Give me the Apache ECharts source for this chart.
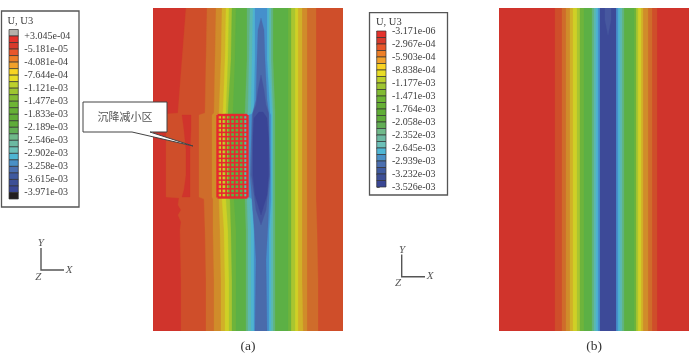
<!DOCTYPE html>
<html>
<head>
<meta charset="utf-8">
<title>U3 contour</title>
<script src="https://cdn.jsdelivr.net/npm/echarts@6/dist/echarts.min.js"></script>
<style>
html, body { margin: 0; padding: 0; background: #fff; }
#chart { width: 700px; height: 353px; }
</style>
</head>
<body>
<div id="chart"></div>
<script>
// legend tick labels
var labelsA = ['+3.045e-04', '-5.181e-05', '-4.081e-04', '-7.644e-04', '-1.121e-03', '-1.477e-03', '-1.833e-03',
    '-2.189e-03', '-2.546e-03', '-2.902e-03', '-3.258e-03', '-3.615e-03', '-3.971e-03'];
var labelsB = ['-3.171e-06', '-2.967e-04', '-5.903e-04', '-8.838e-04', '-1.177e-03', '-1.471e-03', '-1.764e-03',
    '-2.058e-03', '-2.352e-03', '-2.645e-03', '-2.939e-03', '-3.232e-03', '-3.526e-03'];
// legend colour steps, two per labelled interval
var stepColors = ['#e5322c', '#d83a2c', '#e8572b', '#ee7f27', '#f2a12b', '#f9d423', '#e9dd26', '#bcd02b',
    '#9ec531', '#82bb34', '#6eb534', '#66b035', '#60ad36', '#5fac3a', '#62ae55', '#6fb98a',
    '#6cb9a2', '#6cc0b8', '#4fb6d4', '#4a90c6', '#4b6fb0', '#3f5a9f', '#3d4f96', '#3a4795'];
var overColor = '#b5b1ab';
var underColor = '#231f20';

// contour fills, outermost first
var redFill = '#d0342c';
var levelColors = ['#cf4e2a', '#cf6c2b', '#d08c2a', '#d1b028', '#cfd026', '#a9c530', '#6eb43b', '#5cb045',
    '#62b37e', '#5cb8b0', '#4eb3d0', '#4590cc'];

// panel (a): model coordinates, x from left edge, y from top edge
var rowsFirstA = [0, 52, 104, 105, 106, 189, 190, 197, 202, 207, 214, 222, 272, 323];
var leftFirstA = [33, 29, 25, 25, 13, 13, 26, 25, 28, 25, 28, 27, 28, 28];
var rightFirstA = [190, 190, 190, 190, 190, 190, 190, 190, 190, 190, 190, 190, 190, 190];

var rowsA = [0, 52, 105, 107, 189, 191, 222, 272, 323];
var leftA = [
    [54, 53, 52, 46, 46, 51, 52, 53, 53],
    [63, 62, 61, 59, 59, 60, 60, 61, 61],
    [69, 68, 66, 64, 64, 66, 67, 68, 68],
    [73, 72, 70, 67, 67, 69, 71, 72, 72],
    [76, 75, 73, 71, 72, 73, 75, 76, 76],
    [79, 78, 75, 75, 75, 77, 78, 79, 79],
    [83, 82, 80, 78, 78, 81, 83, 83, 83],
    [94, 94, 92, 90, 90, 92, 93, 93, 93],
    [97, 96, 95, 92, 92, 94, 95, 95, 95],
    [100, 99, 98, 94, 94, 97, 98, 98, 98],
    [102, 102, 101, 96, 96, 99, 101, 101, 101]
];
var rightA = [
    [163, 163, 163, 163, 163, 163, 164, 165, 165],
    [154, 154, 154, 154, 154, 154, 154, 154, 154],
    [149, 149, 149, 149, 149, 149, 149, 149, 150],
    [145, 145, 145, 145, 145, 145, 145, 145, 145],
    [142, 142, 142, 142, 142, 142, 142, 142, 142],
    [138, 138, 138, 138, 138, 138, 138, 138, 138],
    [135, 135, 135, 135, 135, 135, 135, 135, 135],
    [120, 120, 122, 122, 122, 122, 122, 122, 122],
    [118, 118, 120, 120, 120, 120, 120, 120, 120],
    [116, 116, 119, 119, 119, 119, 118, 118, 118],
    [114, 114, 117, 118, 118, 118, 116, 116, 116]
];
// red pocket left of the mesh
var rowsPocketA = [107, 122, 142, 167, 182, 189];
var leftPocketA = [29, 31, 33, 33, 31, 29];
var rightPocketA = [38, 38, 37, 37, 37, 37];
// blue core, three nested levels
var coreColors = ['#4a6bab', '#43559f', '#3a4596'];
var rowsCoreA = [
    [10, 22, 52, 92, 107, 167, 217, 252, 323],
    [67, 82, 97, 105, 167, 202, 217],
    [104, 110, 130, 167, 187, 207]
];
var leftCoreA = [
    [108, 105, 104, 103, 99, 97, 101, 103, 102],
    [108, 105, 103, 100, 98.5, 103, 108],
    [106, 101, 100, 100, 102, 108]
];
var rightCoreA = [
    [108, 111, 112, 114, 116, 117, 115, 113, 114],
    [108, 111, 113, 115.5, 116.5, 113, 108],
    [110, 114, 115.5, 115.5, 114, 108]
];
// mesh over the settlement-reduction zone
var meshColsA = [64.5, 68.8, 73.1, 77.4, 81.7, 86, 90.3, 94.5];
var meshRowsA = [107, 111.3, 115.7, 120, 124.4, 128.7, 133, 137.4, 141.7, 146.1, 150.4, 154.7,
    159.1, 163.4, 167.8, 172.1, 176.4, 180.8, 185.1, 189.5];

// panel (b): straight bands
var rowsB = [0, 323];
var leftB = [56, 63, 67, 71, 74, 78, 81, 85, 93, 95, 97, 99];
var rightB = [158, 153, 149, 144, 142, 139, 137, 135, 125, 123, 121, 119];
var coreLeftB = 101;
var coreRightB = 117;
var rowsWedgeB = [0, 12, 27];
var leftWedgeB = [106, 106, 109];
var rightWedgeB = [112, 112, 109];

function region(color, rows, left, right) {
    var pts = [];
    for (var i = 0; i < rows.length; i++) pts.push([left[i], rows[i]]);
    for (var j = rows.length - 1; j >= 0; j--) pts.push([right[j], rows[j]]);
    return {color: color, pts: pts};
}
function fill(v, n) {
    var a = [];
    for (var i = 0; i < n; i++) a.push(v);
    return a;
}

var regionsA = [region(redFill, [0, 323], [0, 0], [190, 190])];
regionsA.push(region(levelColors[0], rowsFirstA, leftFirstA, rightFirstA));
leftA.forEach(function (l, i) {
    regionsA.push(region(levelColors[i + 1], rowsA, l, rightA[i]));
});
regionsA.push(region(redFill, rowsPocketA, leftPocketA, rightPocketA));
coreColors.forEach(function (c, i) {
    regionsA.push(region(c, rowsCoreA[i], leftCoreA[i], rightCoreA[i]));
});

var regionsB = [region(redFill, rowsB, [0, 0], [190, 190])];
leftB.forEach(function (l, i) {
    regionsB.push(region(levelColors[i], rowsB, fill(l, 2), fill(rightB[i], 2)));
});
regionsB.push(region('#3d4a98', rowsB, fill(coreLeftB, 2), fill(coreRightB, 2)));
regionsB.push(region('#47589f', rowsWedgeB, leftWedgeB, rightWedgeB));

var meshLines = [];
meshColsA.forEach(function (x, i) {
    var edge = i === 0 || i === meshColsA.length - 1;
    meshLines.push([x, meshRowsA[0], x, meshRowsA[meshRowsA.length - 1], edge ? 2.4 : 1.6]);
});
meshRowsA.forEach(function (y, i) {
    var edge = i === 0 || i === meshRowsA.length - 1;
    meshLines.push([meshColsA[0], y, meshColsA[meshColsA.length - 1], y, edge ? 2.4 : 1.6]);
});

function contourSeries(idx, regions) {
    return {
        type: 'custom',
        xAxisIndex: idx,
        yAxisIndex: idx,
        silent: true,
        clip: true,
        data: regions.map(function (r, i) { return [i]; }),
        renderItem: function (params, api) {
            var r = regions[params.dataIndex];
            return {
                type: 'polygon',
                shape: {points: r.pts.map(function (p) { return api.coord(p); })},
                style: {fill: r.color, stroke: r.color, lineWidth: 0.3}
            };
        }
    };
}

function legendSeries(idx, colors) {
    return {
        type: 'custom',
        xAxisIndex: idx,
        yAxisIndex: idx,
        silent: true,
        z: 3,
        data: colors.map(function (c, i) { return [i]; }),
        renderItem: function (params, api) {
            var i = params.dataIndex;
            var a = api.coord([0, i]);
            var b = api.coord([1, i + 1]);
            return {
                type: 'rect',
                shape: {x: a[0], y: a[1], width: b[0] - a[0], height: b[1] - a[1]},
                style: {fill: colors[i], stroke: '#333', lineWidth: 0.7}
            };
        }
    };
}

var serif = '"Liberation Serif", "Times New Roman", serif';

function legendAxis(idx, count, positions, labels) {
    return {
        type: 'value',
        gridIndex: idx,
        min: 0,
        max: count,
        inverse: true,
        position: 'right',
        splitLine: {show: false},
        axisLine: {show: false},
        axisTick: {show: true, customValues: positions, length: 3, lineStyle: {color: '#444', width: 0.8}},
        axisLabel: {
            show: true,
            customValues: positions,
            margin: 6,
            fontFamily: serif,
            fontSize: 10,
            color: '#3c3c3c',
            formatter: function (v) { return labels[positions.indexOf(v)]; }
        }
    };
}
function hiddenAxis(idx, max, inverse) {
    return {type: 'value', gridIndex: idx, min: 0, max: max, inverse: !!inverse, show: false};
}

var positionsA = labelsA.map(function (l, i) { return i * 2 + 1; });
var positionsB = labelsB.map(function (l, i) { return i * 2; });
var colorsA = [overColor].concat(stepColors, [underColor]);

function triad(ox, oy, yx, yy, xx, xy, zx, zy, tipY, tipX) {
    var style = {stroke: '#555', lineWidth: 1.4, fill: 'none'};
    var txt = function (t, x, y) {
        return {
            type: 'text', x: x, y: y,
            style: {text: t, fontFamily: serif, fontStyle: 'italic', fontSize: 11, fill: '#555', align: 'center', verticalAlign: 'middle'}
        };
    };
    return [
        {type: 'polyline', shape: {points: [[ox, tipY], [ox, oy], [tipX, oy]]}, style: style},
        txt('Y', yx, yy), txt('X', xx, xy), txt('Z', zx, zy)
    ];
}
function plainText(t, x, y, size, color, align) {
    return {
        type: 'text', x: x, y: y,
        style: {text: t, fontFamily: serif, fontSize: size, fill: color, align: align || 'left', verticalAlign: 'middle'}
    };
}

var chart = echarts.init(document.getElementById('chart'), null, {renderer: 'canvas'});
var option = {
    animation: false,
    backgroundColor: '#fff',
    grid: [
        {left: 153, top: 8, width: 190, height: 323},
        {left: 499, top: 8, width: 190, height: 323},
        {left: 9, top: 29.5, width: 9.3, height: 169.5},
        {left: 376.7, top: 31, width: 9.3, height: 156}
    ],
    xAxis: [
        hiddenAxis(0, 190),
        hiddenAxis(1, 190),
        hiddenAxis(2, 1),
        hiddenAxis(3, 1)
    ],
    yAxis: [
        hiddenAxis(0, 323, true),
        hiddenAxis(1, 323, true),
        legendAxis(2, 26, positionsA, labelsA),
        legendAxis(3, 24, positionsB, labelsB)
    ],
    series: [
        contourSeries(0, regionsA),
        {
            type: 'custom',
            xAxisIndex: 0,
            yAxisIndex: 0,
            silent: true,
            z: 4,
            data: meshLines,
            renderItem: function (params, api) {
                var a = api.coord([api.value(0), api.value(1)]);
                var b = api.coord([api.value(2), api.value(3)]);
                return {
                    type: 'line',
                    shape: {x1: a[0], y1: a[1], x2: b[0], y2: b[1]},
                    style: {stroke: '#e6282e', lineWidth: api.value(4)}
                };
            }
        },
        contourSeries(1, regionsB),
        legendSeries(2, colorsA),
        legendSeries(3, stepColors)
    ],
    graphic: {
        elements: [
            // legend frames
            {type: 'rect', z: 0, shape: {x: 1.5, y: 11, width: 77.5, height: 196}, style: {fill: 'none', stroke: '#555', lineWidth: 1.3}},
            {type: 'rect', z: 0, shape: {x: 369.5, y: 12.7, width: 78, height: 182.3}, style: {fill: 'none', stroke: '#555', lineWidth: 1.3}},
            plainText('U, U3', 7.5, 21, 10.5, '#3c3c3c'),
            plainText('U, U3', 376, 22, 10.5, '#3c3c3c'),
            // callout
            {
                type: 'polygon', z: 50,
                shape: {points: [[83, 102], [167, 102], [167, 132], [150, 132], [193, 146], [132, 132], [83, 132]]},
                style: {fill: '#fff', stroke: '#444', lineWidth: 1}
            },
            {
                type: 'text', z: 51, x: 125, y: 117,
                style: {text: '沉降减小区', fontFamily: '"Noto Sans CJK SC"', fontSize: 11, fill: '#555', align: 'center', verticalAlign: 'middle'}
            },
            plainText('(a)', 248, 346, 13.5, '#333', 'center'),
            plainText('(b)', 594, 346, 13.5, '#333', 'center')
        ].concat(
            triad(41, 270, 40.7, 243.5, 69, 270.5, 38.3, 277, 248, 64),
            triad(401.7, 276.7, 402, 250, 430, 276.5, 398, 283, 254.5, 425)
        )
    }
};
chart.setOption(option);
</script>
</body>
</html>
